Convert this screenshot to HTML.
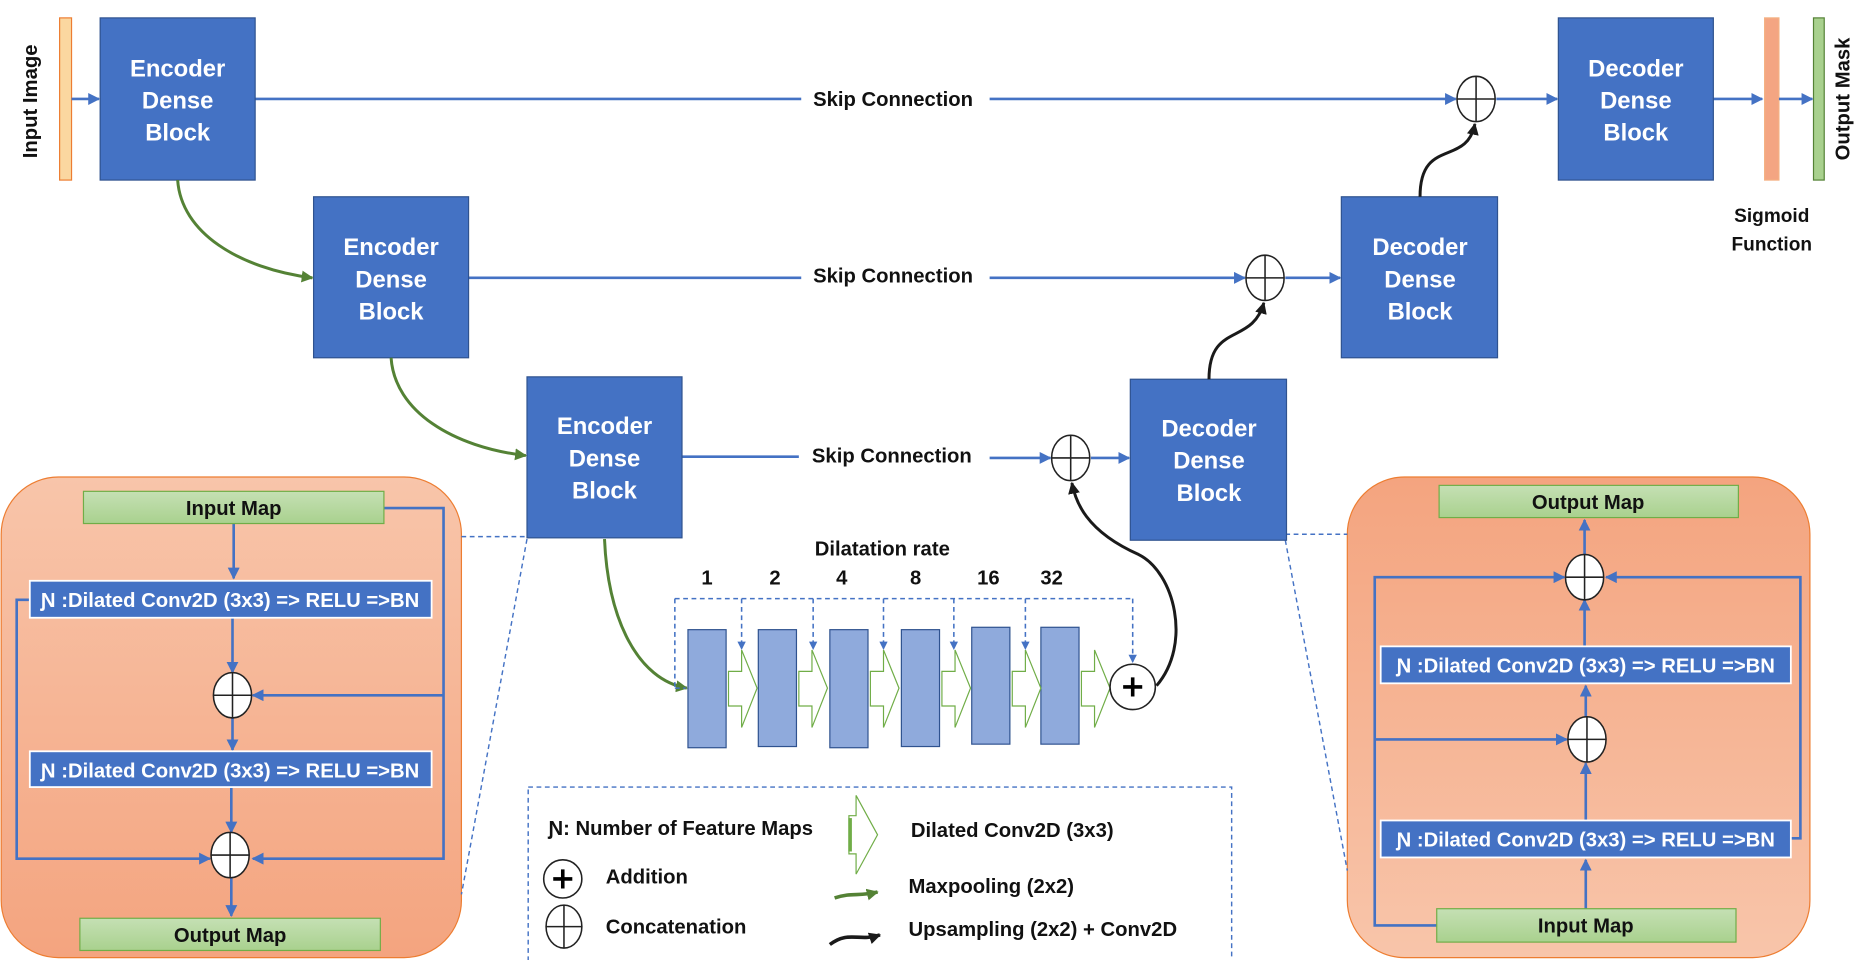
<!DOCTYPE html>
<html><head><meta charset="utf-8"><style>
html,body{margin:0;padding:0;background:#fff;}
svg{display:block;}
text{font-family:"Liberation Sans Narrow","Liberation Sans",sans-serif;font-weight:bold;}
</style></head><body>
<svg width="1860" height="960" viewBox="0 0 1560 805" preserveAspectRatio="none" xmlns="http://www.w3.org/2000/svg">
<defs>
<marker id="ab" markerWidth="10" markerHeight="10" refX="9" refY="5" orient="auto" markerUnits="userSpaceOnUse"><path d="M0,0 L10,5 L0,10 z" fill="#4472c4"/></marker>
<marker id="ag" markerWidth="10" markerHeight="10" refX="9" refY="5" orient="auto" markerUnits="userSpaceOnUse"><path d="M0,0 L10,5 L0,10 z" fill="#548235"/></marker>
<marker id="ak" markerWidth="10" markerHeight="10" refX="9" refY="5" orient="auto" markerUnits="userSpaceOnUse"><path d="M0,0 L10,5 L0,10 z" fill="#1a1a1a"/></marker>
<marker id="ad" markerWidth="7" markerHeight="7" refX="6" refY="3.5" orient="auto" markerUnits="userSpaceOnUse"><path d="M0,0 L7,3.5 L0,7 z" fill="#4472c4"/></marker>
<linearGradient id="pg" x1="0" y1="0" x2="0" y2="1"><stop offset="0" stop-color="#f8c5aa"/><stop offset="1" stop-color="#f4a47f"/></linearGradient>
<linearGradient id="pg2" x1="0" y1="0" x2="0" y2="1"><stop offset="0" stop-color="#f4a47f"/><stop offset="1" stop-color="#f8c5aa"/></linearGradient>
<linearGradient id="gg" x1="0" y1="0" x2="0" y2="1"><stop offset="0" stop-color="#c5e0b4"/><stop offset="1" stop-color="#a9d18e"/></linearGradient>
</defs>

<!-- panels -->
<rect x="1" y="400" width="386" height="403" rx="48" fill="url(#pg)" stroke="#ed7d31" stroke-width="1"/>
<rect x="1130" y="400" width="388" height="403" rx="48" fill="url(#pg2)" stroke="#ed7d31" stroke-width="1"/>

<!-- dashed connectors -->
<g stroke="#4472c4" stroke-width="1.2" stroke-dasharray="4,3" fill="none">
<line x1="387" y1="450" x2="442" y2="450"/><line x1="442" y1="452" x2="387" y2="750"/>
<line x1="1078" y1="448" x2="1130" y2="448"/><line x1="1078" y1="453" x2="1130" y2="730"/>
<rect x="443" y="660" width="590" height="148"/>
</g>

<!-- input/output bars -->
<rect x="50" y="15" width="10" height="136" fill="#fbd7a0" stroke="#ed7d31"/>
<rect x="1480" y="15" width="12" height="136" fill="#f4a582" stroke="#f4b183"/>
<rect x="1521" y="15" width="9" height="136" fill="#a9d18e" stroke="#548235"/>
<text transform="translate(31,85) rotate(-90)" font-size="17" text-anchor="middle" fill="#111" style="font-family:'Liberation Sans',sans-serif">Input Image</text>
<text transform="translate(1551,83) rotate(-90)" font-size="17" text-anchor="middle" fill="#111" style="font-family:'Liberation Sans',sans-serif">Output Mask</text>
<text x="1486" y="186" font-size="16" text-anchor="middle" fill="#111">Sigmoid</text>
<text x="1486" y="210" font-size="16" text-anchor="middle" fill="#111">Function</text>

<!-- blue lines -->
<g stroke="#4472c4" stroke-width="2.2" fill="none">
<line x1="60" y1="83" x2="83" y2="83" marker-end="url(#ab)"/>
<line x1="214" y1="83" x2="672" y2="83"/>
<line x1="830" y1="83" x2="1221" y2="83" marker-end="url(#ab)"/>
<line x1="1255" y1="83" x2="1306" y2="83" marker-end="url(#ab)"/>
<line x1="1437" y1="83" x2="1478" y2="83" marker-end="url(#ab)"/>
<line x1="1492" y1="83" x2="1520" y2="83" marker-end="url(#ab)"/>
<line x1="393" y1="233" x2="672" y2="233"/>
<line x1="830" y1="233" x2="1044" y2="233" marker-end="url(#ab)"/>
<line x1="1078" y1="233" x2="1124" y2="233" marker-end="url(#ab)"/>
<line x1="572" y1="383" x2="670" y2="383"/>
<line x1="830" y1="384" x2="881" y2="384" marker-end="url(#ab)"/>
<line x1="915" y1="384" x2="947" y2="384" marker-end="url(#ab)"/>
</g>
<g font-size="17" fill="#111" text-anchor="middle">
<text x="749" y="89">Skip Connection</text>
<text x="749" y="237">Skip Connection</text>
<text x="748" y="388">Skip Connection</text>
</g>

<!-- blocks -->
<g fill="#4472c4" stroke="#2f528f" stroke-width="1">
<rect x="84" y="15" width="130" height="136"/>
<rect x="263" y="165" width="130" height="135"/>
<rect x="442" y="316" width="130" height="135"/>
<rect x="1307" y="15" width="130" height="136"/>
<rect x="1125" y="165" width="131" height="135"/>
<rect x="948" y="318" width="131" height="135"/>
</g>
<g fill="#fff" font-size="20" text-anchor="middle">
<text x="149" y="64">Encoder</text><text x="149" y="91">Dense</text><text x="149" y="118">Block</text>
<text x="328" y="214">Encoder</text><text x="328" y="241">Dense</text><text x="328" y="268">Block</text>
<text x="507" y="364">Encoder</text><text x="507" y="391">Dense</text><text x="507" y="418">Block</text>
<text x="1372" y="64">Decoder</text><text x="1372" y="91">Dense</text><text x="1372" y="118">Block</text>
<text x="1191" y="214">Decoder</text><text x="1191" y="241">Dense</text><text x="1191" y="268">Block</text>
<text x="1014" y="366">Decoder</text><text x="1014" y="393">Dense</text><text x="1014" y="420">Block</text>
</g>

<!-- concat circles -->
<g fill="#fff" stroke="#222" stroke-width="1.3">
<ellipse cx="1238" cy="83" rx="16" ry="19"/><path d="M1222,83 H1254 M1238,64 V102"/>
<ellipse cx="1061" cy="233" rx="16" ry="19"/><path d="M1045,233 H1077 M1061,214 V252"/>
<ellipse cx="898" cy="384" rx="16" ry="19"/><path d="M882,384 H914 M898,365 V403"/>
</g>

<!-- green curves -->
<g stroke="#548235" stroke-width="2.5" fill="none">
<path d="M149,151 C152,195 200,225 262,233" marker-end="url(#ag)"/>
<path d="M328,300 C331,345 380,375 441,382" marker-end="url(#ag)"/>
<path d="M507,452 C510,520 535,570 576,577" marker-end="url(#ag)"/>
</g>
<!-- black curves -->
<g stroke="#1a1a1a" stroke-width="2.5" fill="none">
<path d="M1014,318 C1014,270 1050,290 1060,254" marker-end="url(#ak)"/>
<path d="M1191,165 C1191,115 1230,140 1237,104" marker-end="url(#ak)"/>
<path d="M970,575 C1000,540 985,480 955,465 C910,445 902,420 899,405" marker-end="url(#ak)"/>
</g>

<!-- dilation -->
<text x="740" y="466" font-size="17" fill="#111" text-anchor="middle">Dilatation rate</text>
<g font-size="17" fill="#111" text-anchor="middle">
<text x="593" y="490">1</text><text x="650" y="490">2</text><text x="706" y="490">4</text><text x="768" y="490">8</text><text x="829" y="490">16</text><text x="882" y="490">32</text>
</g>
<g stroke="#4472c4" stroke-width="1.3" stroke-dasharray="4,3" fill="none">
<line x1="566" y1="502" x2="950" y2="502"/>
<line x1="566" y1="502" x2="566" y2="577"/>
<line x1="566" y1="577" x2="575" y2="577"/>
<line x1="622" y1="502" x2="622" y2="544" marker-end="url(#ad)"/>
<line x1="682" y1="502" x2="682" y2="544" marker-end="url(#ad)"/>
<line x1="741" y1="502" x2="741" y2="544" marker-end="url(#ad)"/>
<line x1="800" y1="502" x2="800" y2="544" marker-end="url(#ad)"/>
<line x1="860" y1="502" x2="860" y2="544" marker-end="url(#ad)"/>
<line x1="950" y1="502" x2="950" y2="555" marker-end="url(#ad)"/>
</g>
<g fill="#8faadc" stroke="#2f528f" stroke-width="1">
<rect x="577" y="528" width="32" height="99"/><rect x="636" y="528" width="32" height="98"/>
<rect x="696" y="528" width="32" height="99"/><rect x="756" y="528" width="32" height="98"/>
<rect x="815" y="526" width="32" height="98"/><rect x="873" y="526" width="32" height="98"/>
</g>
<g fill="#fff" stroke="#70ad47" stroke-width="1">
<path d="M611,563 H622 V545 L635,577 L622,610 V592 H611 Z"/>
<path d="M670,563 H681 V545 L694,577 L681,610 V592 H670 Z"/>
<path d="M730,563 H741 V545 L754,577 L741,610 V592 H730 Z"/>
<path d="M790,563 H801 V545 L814,577 L801,610 V592 H790 Z"/>
<path d="M849,563 H860 V545 L873,577 L860,610 V592 H849 Z"/>
<path d="M907,563 H918 V545 L931,577 L918,610 V592 H907 Z"/>
</g>
<circle cx="950" cy="576" r="19" fill="#fff" stroke="#222" stroke-width="1.3"/>
<path d="M942,576 H958 M950,568 V584" stroke="#000" stroke-width="3"/>

<!-- legend -->
<g font-size="17" fill="#111">
<text x="460" y="700">Ɲ: Number of Feature Maps</text>
<text x="508" y="741">Addition</text>
<text x="508" y="783">Concatenation</text>
<text x="764" y="702">Dilated Conv2D (3x3)</text>
<text x="762" y="749">Maxpooling (2x2)</text>
<text x="762" y="785">Upsampling (2x2) + Conv2D</text>
</g>
<circle cx="472" cy="737" r="16" fill="#fff" stroke="#222" stroke-width="1.3"/>
<path d="M464,737 H480 M472,729 V745" stroke="#000" stroke-width="3"/>
<ellipse cx="473" cy="777" rx="15" ry="18" fill="#fff" stroke="#222" stroke-width="1.3"/>
<path d="M458,777 H488 M473,759 V795" stroke="#222" stroke-width="1.3"/>
<path d="M712,684 H718 V667 L736,700 L718,733 V716 H712 Z" fill="#fff" stroke="#70ad47"/>
<line x1="713" y1="686" x2="713" y2="714" stroke="#70ad47" stroke-width="3"/>
<path d="M700,753 C715,748 720,752 736,748" stroke="#548235" stroke-width="3" fill="none" marker-end="url(#ag)"/>
<path d="M696,792 C712,780 720,790 738,784" stroke="#1a1a1a" stroke-width="3" fill="none" marker-end="url(#ak)"/>

<!-- left panel contents -->
<g stroke="#4472c4" stroke-width="2.2" fill="none">
<line x1="196" y1="439" x2="196" y2="485" marker-end="url(#ab)"/>
<line x1="195" y1="518" x2="195" y2="564" marker-end="url(#ab)"/>
<line x1="195" y1="602" x2="195" y2="629" marker-end="url(#ab)"/>
<line x1="194" y1="660" x2="194" y2="698" marker-end="url(#ab)"/>
<line x1="194" y1="736" x2="194" y2="768" marker-end="url(#ab)"/>
<polyline points="322,426 372,426 372,720 212,720" marker-end="url(#ab)"/>
<line x1="372" y1="583" x2="212" y2="583" marker-end="url(#ab)"/>
<polyline points="25,503 14,503 14,720 176,720" marker-end="url(#ab)"/>
</g>
<rect x="70" y="412" width="252" height="27" fill="url(#gg)" stroke="#70ad47"/>
<rect x="67" y="770" width="252" height="27" fill="url(#gg)" stroke="#70ad47"/>
<rect x="25" y="487" width="337" height="31" fill="#4472c4" stroke="#fff" stroke-width="1.5"/>
<rect x="25" y="630" width="337" height="30" fill="#4472c4" stroke="#fff" stroke-width="1.5"/>
<g fill="#fff" stroke="#222" stroke-width="1.3">
<ellipse cx="195" cy="583" rx="16" ry="19"/><path d="M179,583 H211 M195,564 V602"/>
<ellipse cx="193" cy="717" rx="16" ry="19"/><path d="M177,717 H209 M193,698 V736"/>
</g>
<text x="196" y="432" font-size="17" text-anchor="middle" fill="#111">Input Map</text>
<text x="193" y="790" font-size="17" text-anchor="middle" fill="#111">Output Map</text>
<text x="193" y="509" font-size="17" text-anchor="middle" fill="#fff">Ɲ :Dilated Conv2D (3x3) =&gt; RELU =&gt;BN</text>
<text x="193" y="652" font-size="17" text-anchor="middle" fill="#fff">Ɲ :Dilated Conv2D (3x3) =&gt; RELU =&gt;BN</text>

<!-- right panel contents -->
<g stroke="#4472c4" stroke-width="2.2" fill="none">
<line x1="1330" y1="762" x2="1330" y2="721" marker-end="url(#ab)"/>
<line x1="1330" y1="688" x2="1330" y2="640" marker-end="url(#ab)"/>
<line x1="1330" y1="601" x2="1330" y2="575" marker-end="url(#ab)"/>
<line x1="1329" y1="542" x2="1329" y2="503" marker-end="url(#ab)"/>
<line x1="1329" y1="465" x2="1329" y2="436" marker-end="url(#ab)"/>
<polyline points="1212,776 1153,776 1153,484 1312,484" marker-end="url(#ab)"/>
<line x1="1153" y1="620" x2="1314" y2="620" marker-end="url(#ab)"/>
<polyline points="1502,703 1510,703 1510,484 1347,484" marker-end="url(#ab)"/>
</g>
<rect x="1207" y="407" width="251" height="27" fill="url(#gg)" stroke="#70ad47"/>
<rect x="1205" y="762" width="251" height="28" fill="url(#gg)" stroke="#70ad47"/>
<rect x="1158" y="542" width="344" height="31" fill="#4472c4" stroke="#fff" stroke-width="1.5"/>
<rect x="1158" y="688" width="344" height="31" fill="#4472c4" stroke="#fff" stroke-width="1.5"/>
<g fill="#fff" stroke="#222" stroke-width="1.3">
<ellipse cx="1329" cy="484" rx="16" ry="19"/><path d="M1313,484 H1345 M1329,465 V503"/>
<ellipse cx="1331" cy="620" rx="16" ry="19"/><path d="M1315,620 H1347 M1331,601 V639"/>
</g>
<text x="1332" y="427" font-size="17" text-anchor="middle" fill="#111">Output Map</text>
<text x="1330" y="782" font-size="17" text-anchor="middle" fill="#111">Input Map</text>
<text x="1330" y="564" font-size="17" text-anchor="middle" fill="#fff">Ɲ :Dilated Conv2D (3x3) =&gt; RELU =&gt;BN</text>
<text x="1330" y="710" font-size="17" text-anchor="middle" fill="#fff">Ɲ :Dilated Conv2D (3x3) =&gt; RELU =&gt;BN</text>
</svg>
</body></html>
